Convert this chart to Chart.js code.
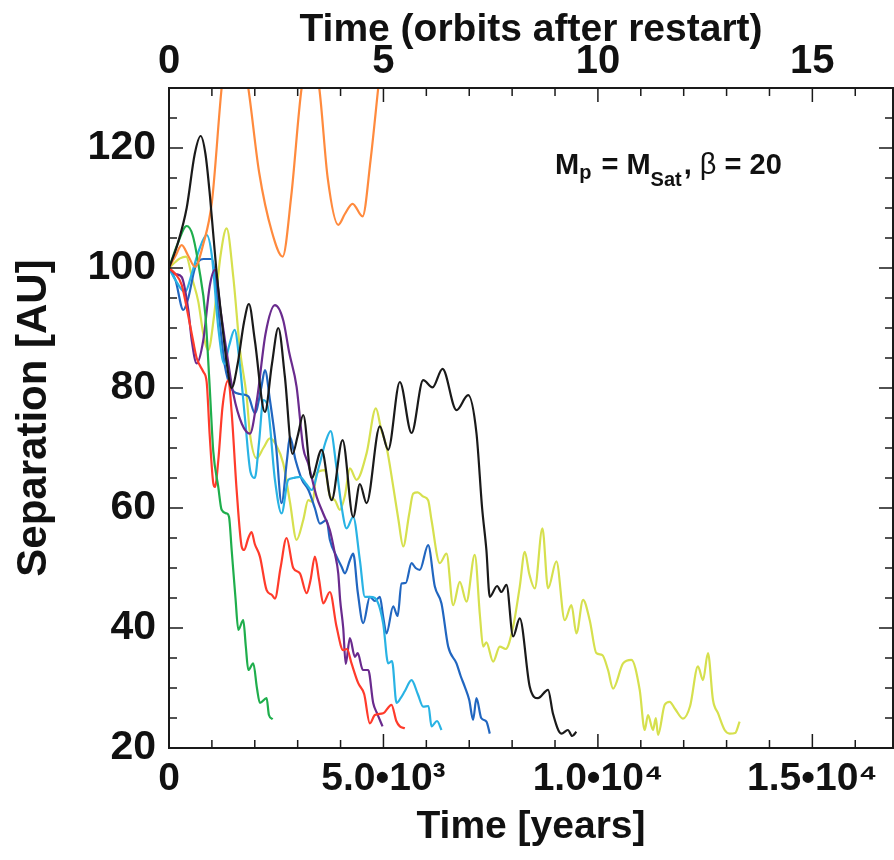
<!DOCTYPE html>
<html>
<head>
<meta charset="utf-8">
<script src="https://cdn.jsdelivr.net/npm/chart.js@4.4.1/dist/chart.umd.min.js"></script>
<style>
  html, body { margin: 0; padding: 0; background: #fff; }
</style>
</head>
<body>
<canvas id="sepChart" width="894" height="860"></canvas>
<script>
// Separation vs. time after restart, Mp = MSat, beta = 20
const FONT = "'Liberation Sans', Arial, Helvetica, sans-serif";

// axis ranges / tick labels
const X_MAX_YEARS = 16880;
const xTickYears = [0, 5000, 10000, 15000];
const xTickLabels = ['0', '5.0•10³', '1.0•10⁴', '1.5•10⁴'];
const topTickOrbits = [0, 5, 10, 15];
const yTickValues = [20, 40, 60, 80, 100, 120];

// series: time [years] and separation [AU]
const orangeYears = [0, 150, 296, 450, 606, 800, 1000, 1227, 1400, 1650, 1849, 2100, 2400, 2650, 2850, 3092, 3300, 3503, 3700, 3946, 4100, 4280, 4513, 4700, 4878, 5000];
const orangeAU    = [100, 102, 103.8, 102, 100.2, 104, 111, 130, 140, 138, 130, 116, 106, 101.9, 112, 130, 136, 130, 115, 107.2, 109, 110.7, 108.6, 118, 130, 138];

const blackYears = [0, 200, 412, 600, 738, 850, 955, 1100, 1250, 1350, 1460, 1600, 1750, 1864, 2000, 2237, 2400, 2548, 2700, 2880, 3000, 3130, 3325, 3558, 3791, 4047, 4295, 4450, 4606, 4916, 5110, 5382, 5655, 5926, 6144, 6377, 6703, 6975, 7168, 7300, 7400, 7479, 7650, 7750, 7868, 8023, 8178, 8411, 8600, 8838, 8950, 9149, 9300, 9400, 9498];
const blackAU    = [100, 104, 110, 119, 122, 119, 112, 100, 90, 84, 80, 84, 91, 94, 88, 76, 84, 90, 82, 69, 72, 75.5, 65, 69.7, 61.3, 71.3, 58.5, 64, 60.8, 73.6, 69.7, 81, 72.5, 81.3, 80.1, 83.2, 76.3, 78.8, 72.5, 60, 53, 45.2, 47, 46, 47.2, 38.6, 41.6, 30.2, 28.3, 29.7, 25.8, 22.4, 23, 22, 22.7];

const greenYears = [0, 200, 412, 550, 700, 850, 950, 1033, 1149, 1227, 1344, 1400, 1461, 1550, 1616, 1732, 1790, 1849, 1965, 2050, 2120, 2276, 2330, 2416];
const greenAU    = [100, 104, 107, 105.5, 100, 92, 80, 69.4, 63.5, 59.7, 59.1, 58.5, 53, 45, 39.7, 41.3, 37, 33, 34.1, 30, 27.5, 28.3, 25.5, 24.8];

const redYears = [0, 150, 296, 450, 566, 645, 800, 878, 950, 1033, 1072, 1150, 1250, 1383, 1460, 1577, 1694, 1750, 1850, 1926, 2000, 2120, 2276, 2400, 2470, 2600, 2741, 2897, 3052, 3208, 3300, 3402, 3500, 3596, 3751, 3907, 4062, 4150, 4256, 4412, 4550, 4683, 4800, 4993, 5188, 5300, 5382, 5499];
const redAU    = [100, 99, 97.2, 92, 87.7, 85, 82.7, 81, 72, 64.1, 63.5, 68, 77, 81.3, 76, 63, 53.6, 53, 55, 56, 54, 51.9, 46.3, 45.5, 44.9, 50, 55, 50, 49.1, 45.8, 48, 51.9, 48, 44.1, 46, 40.2, 36.3, 36.5, 34.1, 30.8, 29, 24.1, 25.5, 25.8, 27.2, 24.5, 23.6, 23.3];

const purpleYears = [0, 150, 296, 450, 529, 645, 800, 950, 1072, 1200, 1344, 1500, 1700, 1887, 2050, 2250, 2470, 2663, 2800, 2975, 3130, 3246, 3441, 3600, 3751, 3868, 3946, 3990, 4062, 4120, 4217, 4334, 4400, 4520, 4645, 4761, 4850, 4978];
const purpleAU    = [100, 99, 98.5, 93, 88, 84.1, 88, 97, 99.7, 93, 86, 79, 74, 72.4, 78, 89, 93.8, 91.3, 86, 80.2, 70, 67.4, 61.9, 59, 56.3, 52.4, 49.1, 44.7, 40, 34, 38.3, 35.2, 35.8, 33, 33, 27.5, 25.8, 23.6];

const cyanYears = [0, 150, 373, 550, 700, 878, 1000, 1150, 1290, 1400, 1530, 1650, 1771, 1900, 2000, 2100, 2198, 2300, 2470, 2625, 2780, 2900, 3052, 3200, 3325, 3500, 3650, 3770, 3900, 4024, 4140, 4295, 4450, 4567, 4683, 4800, 4993, 5110, 5200, 5305, 5400, 5500, 5655, 5800, 5926, 6050, 6120, 6250, 6353];
const cyanAU    = [100, 98, 96, 99.5, 103, 105.5, 102, 90, 84, 87, 89.7, 84, 75, 66, 65, 71, 78, 77, 64.7, 59.1, 64.7, 65, 65.2, 64, 63, 67, 71, 72.8, 67, 60.2, 56.6, 58.5, 51.3, 45.2, 45.2, 45, 40.8, 34.1, 34.5, 27.5, 28.3, 29.5, 31.3, 29, 26.9, 27, 23.6, 24.5, 23];

const blueYears = [0, 150, 334, 450, 606, 800, 1000, 1150, 1305, 1450, 1650, 1849, 2003, 2150, 2237, 2353, 2500, 2625, 2750, 2819, 2950, 3100, 3250, 3400, 3518, 3674, 3751, 3900, 4024, 4100, 4217, 4295, 4400, 4528, 4683, 4800, 4916, 4993, 5071, 5227, 5330, 5421, 5520, 5655, 5750, 5848, 6042, 6198, 6353, 6509, 6703, 6800, 6897, 7000, 7090, 7168, 7280, 7401, 7479];
const blueAU    = [100, 98, 93, 95, 100, 101.5, 101.5, 93, 83.6, 80, 79, 78.6, 75.8, 80, 83, 78, 70, 60.8, 68, 71.9, 68, 64.7, 63, 60, 57.4, 58, 54.7, 52, 50.2, 49.1, 51.3, 52.4, 46, 40.8, 45.2, 44.5, 45.2, 41.9, 39.1, 43.6, 42, 47.4, 47.5, 50.8, 50, 49.7, 53.8, 46.9, 44.1, 36.9, 34.1, 32, 30.2, 28, 24.7, 28.3, 25, 24.4, 22.4];

const yellowYears = [0, 150, 256, 400, 550, 683, 800, 916, 1050, 1200, 1344, 1499, 1655, 1810, 1887, 2043, 2200, 2353, 2500, 2664, 2820, 2975, 3130, 3246, 3350, 3441, 3635, 3750, 3868, 3984, 4100, 4217, 4373, 4606, 4823, 4950, 5071, 5227, 5350, 5460, 5600, 5693, 5800, 5926, 6042, 6120, 6314, 6470, 6625, 6780, 6936, 7129, 7250, 7324, 7400, 7557, 7712, 7850, 8023, 8178, 8295, 8400, 8528, 8706, 8838, 9032, 9227, 9383, 9499, 9654, 9809, 9965, 10100, 10236, 10353, 10586, 10780, 10974, 11091, 11168, 11285, 11350, 11402, 11557, 11673, 11800, 11983, 12150, 12333, 12450, 12566, 12683, 12800, 12955, 13071, 13200, 13304];
const yellowAU    = [100, 101, 101.6, 101.9, 98, 94.4, 89, 86.3, 92, 102, 106.6, 98.5, 86.3, 78.6, 72.4, 68.3, 70, 71.6, 70.5, 67.4, 61, 54.7, 58, 61.3, 61, 65.8, 66.3, 62, 61.3, 59.7, 62, 66.6, 64.7, 69.1, 76.6, 73, 70.2, 63.6, 58, 53.6, 59, 62.4, 62.6, 61.9, 61.3, 58, 50.8, 52.4, 43.8, 47.7, 44.4, 52.2, 42, 36.9, 37.6, 34.4, 36.9, 36.5, 40.2, 46.9, 52.7, 49, 46.6, 56.6, 46.6, 51.1, 41.3, 43.8, 39.1, 44.7, 41.3, 35.8, 35.5, 33, 29.9, 34.1, 34.7, 29.7, 23, 25.5, 23, 25, 22.2, 27.2, 27.7, 26.5, 24.9, 27, 33.6, 31.3, 35.8, 28, 25.8, 23, 22.4, 22.5, 24.4];

function pairs(xs, ys) {
    return xs.map((x, i) => ({ x: x, y: ys[i] }));
}

function run(label, xs, ys, color) {
    return {
        label: label,
        data: pairs(xs, ys),
        borderColor: color,
        borderWidth: 2.2,
        pointRadius: 0,
        fill: false,
        cubicInterpolationMode: 'monotone',
        xAxisID: 'x',
        yAxisID: 'y'
    };
}

// inward box ticks like the IDL frame, plus the label in the corner
const frameAndLabel = {
    id: 'frameAndLabel',
    afterDraw(chart) {
        const { ctx, chartArea: a, scales } = chart;
        ctx.save();
        ctx.strokeStyle = '#1a1a1a';
        ctx.lineWidth = 2;
        ctx.strokeRect(a.left, a.top, a.right - a.left, a.bottom - a.top);
        ctx.lineWidth = 1.5;
        ctx.beginPath();
        for (let v = 0; v <= 16000; v += 1000) {
            const px = scales.x.getPixelForValue(v);
            const len = v % 5000 === 0 ? 14 : 8;
            ctx.moveTo(px, a.bottom); ctx.lineTo(px, a.bottom - len);
        }
        for (let o = 0; o <= 16; o++) {
            const px = scales.x2.getPixelForValue(o);
            const len = o % 5 === 0 ? 14 : 8;
            ctx.moveTo(px, a.top); ctx.lineTo(px, a.top + len);
        }
        for (let v = 20; v <= 130; v += 5) {
            const py = scales.y.getPixelForValue(v);
            const len = v % 20 === 0 ? 14 : 8;
            ctx.moveTo(a.left, py); ctx.lineTo(a.left + len, py);
            ctx.moveTo(a.right, py); ctx.lineTo(a.right - len, py);
        }
        ctx.stroke();

        // M_p = M_Sat, beta = 20
        const big = 'bold 29px ' + FONT;
        const sub = 'bold 20px ' + FONT;
        const sym = '29px ' + FONT;
        const pieces = [
            ['M', big, 0], ['p', sub, 5], [' = ', big, 0], ['M', big, 0], ['Sat', sub, 12],
            [', ', big, 0], ['β', sym, 0], [' = 20', big, 0]
        ];
        let x = 555;
        const base = 174;
        ctx.fillStyle = '#111';
        ctx.textBaseline = 'alphabetic';
        ctx.textAlign = 'left';
        pieces.forEach(([t, f, dy]) => {
            ctx.font = f;
            ctx.fillText(t, x, base + dy);
            x += ctx.measureText(t).width + (dy ? 2 : 0);
        });
        ctx.restore();
    }
};

const ctx = document.getElementById('sepChart');
new Chart(ctx, {
    type: 'line',
    data: {
        datasets: [
            run('black', blackYears, blackAU, '#1a1a1a'),
            run('orange', orangeYears, orangeAU, '#ff8a3d'),
            run('green', greenYears, greenAU, '#1fae4c'),
            run('red', redYears, redAU, '#ff3b2b'),
            run('purple', purpleYears, purpleAU, '#6a2b8e'),
            run('cyan', cyanYears, cyanAU, '#29b3e4'),
            run('blue', blueYears, blueAU, '#2166c0'),
            run('yellow', yellowYears, yellowAU, '#d6e04e')
        ]
    },
    options: {
        responsive: false,
        animation: false,
        layout: { padding: { left: 0, right: 1, top: 0, bottom: 0 } },
        plugins: { legend: { display: false }, tooltip: { enabled: false } },
        scales: {
            x: {
                type: 'linear', position: 'bottom', min: 0, max: X_MAX_YEARS,
                afterBuildTicks: s => { s.ticks = xTickYears.map(v => ({ value: v })); },
                afterFit: s => { s.height = 112; },
                ticks: {
                    color: '#111', padding: 8, maxRotation: 0, autoSkip: false,
                    font: { family: FONT, size: 39, weight: 'bold' },
                    callback: (v) => xTickLabels[xTickYears.indexOf(v)]
                },
                grid: { display: false, drawTicks: false },
                border: { display: false },
                title: {
                    display: true, text: 'Time [years]', color: '#111',
                    font: { family: FONT, size: 39, weight: 'bold' },
                    padding: { top: 0, bottom: 9 }
                }
            },
            x2: {
                type: 'linear', position: 'top', min: 0, max: X_MAX_YEARS / 1000,
                afterBuildTicks: s => { s.ticks = topTickOrbits.map(v => ({ value: v })); },
                afterFit: s => { s.height = 88; },
                ticks: {
                    color: '#111', padding: 2, maxRotation: 0, autoSkip: false,
                    font: { family: FONT, size: 40, weight: 'bold' }
                },
                grid: { display: false, drawTicks: false },
                border: { display: false },
                title: {
                    display: true, text: 'Time (orbits after restart)', color: '#111',
                    font: { family: FONT, size: 39, weight: 'bold' },
                    padding: { top: 7, bottom: 0 }
                }
            },
            y: {
                type: 'linear', position: 'left', min: 20, max: 130,
                afterBuildTicks: s => { s.ticks = yTickValues.map(v => ({ value: v })); },
                afterFit: s => { s.width = 169; },
                ticks: {
                    color: '#111', padding: 13,
                    font: { family: FONT, size: 41, weight: 'bold' }
                },
                grid: { display: false, drawTicks: false },
                border: { display: false },
                title: {
                    display: true, text: 'Separation [AU]', color: '#111',
                    font: { family: FONT, size: 42, weight: 'bold' },
                    padding: { top: 9, bottom: 0 }
                }
            }
        }
    },
    plugins: [frameAndLabel]
});
</script>
</body>
</html>
